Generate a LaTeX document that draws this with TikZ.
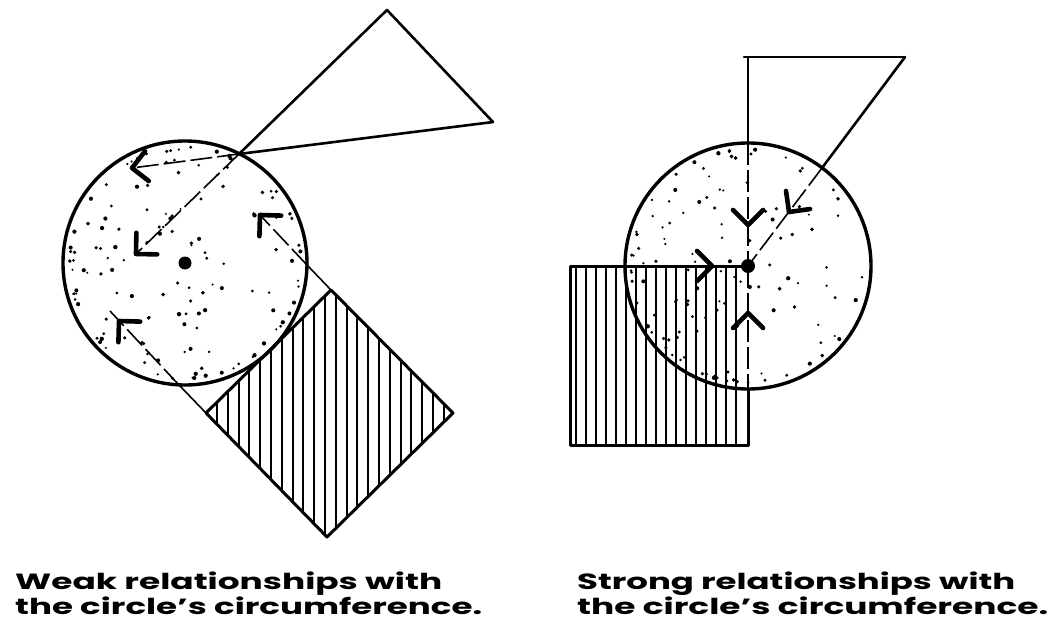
\documentclass[tikz,border=0pt]{standalone}
\usepackage{fontspec}
\setmainfont{Poppins}
\usepackage{graphicx}
\begin{document}
\begin{tikzpicture}[x=1pt,y=-1pt,
  rim/.style={line width=3.4pt},
  outline/.style={line width=3pt, line join=round, line cap=round},
  edge/.style={line width=2.6pt, line join=round, line cap=round},
  guide/.style={line width=1.6pt},
  guidein/.style={line width=1.6pt, dash pattern=on 22pt off 5pt},
  hatch/.style={line width=2.1pt},
  barbs/.pic={\draw[line width=4.6pt, line cap=round, line join=round] (-15,-15) -- (0,0) -- (-15,15);},
  caption/.style={anchor=base west, align=left, inner sep=0pt, font=\fontsize{22}{25}\selectfont\bfseries},
]
\useasboundingbox (0,0) rectangle (1050,634);

% ---------------- left figure ----------------
\coordinate (CL) at (185,263);
\coordinate (TA) at (387,10);
\coordinate (TB) at (493,122);
\coordinate (TC) at (239,154);
\coordinate (SQt) at (331,290);
\coordinate (SQr) at (453,413);
\coordinate (SQb) at (327,537);
\coordinate (SQl) at (206,413);
\coordinate (E1) at (307,265);
\coordinate (E2) at (179,385);
\coordinate (L1) at (132,168);
\coordinate (L2) at (136,254);
\coordinate (L3) at (260,215);
\coordinate (L4) at (119,321);
\coordinate (L4x) at (110,311);

% stipple
\pgfmathsetseed{4711}
\foreach \i in {1,...,135}{
  \pgfmathsetmacro{\a}{360*rnd}
  \pgfmathsetmacro{\u}{rnd}
  \pgfmathsetmacro{\rr}{116-100*\u*\u*\u}
  \pgfmathsetmacro{\s}{1.1+1.1*rnd}
  \fill (CL) ++(\a:\rr) circle[radius=\s];
}
\draw[rim] (CL) circle[radius=122];
\fill (CL) circle[radius=6.5];

% hatched square
\begin{scope}
  \clip (SQt) -- (SQr) -- (SQb) -- (SQl) -- cycle;
  \foreach \x in {217,227.8,...,452}{\draw[hatch] (\x,280) -- (\x,545);}
\end{scope}
\draw[outline] (SQt) -- (SQr) -- (SQb) -- (SQl) -- cycle;

% triangle
\draw[edge] (TC) -- (TA) -- (TB) -- cycle;

% guide lines
\draw[guide] (SQt) -- (E1);
\draw[guidein] (E1) -- (L3);
\draw[guide] (SQl) -- (E2);
\draw[guidein] (E2) -- (L4x);
\draw[guidein] (TC) -- (L1);
\draw[guidein] (TC) -- (L2);

\pic[rotate=-172.8] at (L1) {barbs};
\pic[rotate=-136] at (L2) {barbs};
\pic[rotate=-226.6] at (L3) {barbs};
\pic[rotate=-226.6] at (L4) {barbs};

% ---------------- right figure ----------------
\coordinate (CR) at (748,266);
\coordinate (RA) at (748,57);
\coordinate (RAx) at (744,57);
\coordinate (RB) at (905,57);
\coordinate (RT) at (748,143);
\coordinate (RBot) at (748,389);
\coordinate (RE) at (822,168);
\coordinate (Q1) at (570,266);
\coordinate (Q2) at (570,445);
\coordinate (Q3) at (748,445);
\coordinate (R1) at (748,225);
\coordinate (R2) at (789,212);
\coordinate (R3) at (712,266);
\coordinate (R4) at (748,313);

\pgfmathsetseed{2024}
\foreach \i in {1,...,120}{
  \pgfmathsetmacro{\a}{360*rnd}
  \pgfmathsetmacro{\u}{rnd}
  \pgfmathsetmacro{\rr}{117-100*\u*\u*\u}
  \pgfmathsetmacro{\s}{1.1+1.1*rnd}
  \fill (CR) ++(\a:\rr) circle[radius=\s];
}

\begin{scope}
  \clip (Q1) rectangle (Q3);
  \foreach \x in {576,586,...,743}{\draw[hatch] (\x,260) -- (\x,450);}
\end{scope}
\draw[outline] (CR) -- (Q1) -- (Q2) -- (Q3) -- (RBot);

\draw[rim] (CR) circle[radius=123];

\draw[edge] (RAx) -- (RB);
\draw[edge] (RB) -- (RE);
\draw[guidein] (RE) -- (CR);
\draw[guide] (RA) -- (RT);
\draw[guidein] (RT) -- (CR);
\draw[guidein] (CR) -- (RBot);
\fill (CR) circle[radius=7];

\pic[rotate=-90] at (R1) {barbs};
\pic[rotate=-126.9] at (R2) {barbs};
\pic[rotate=0] at (R3) {barbs};
\pic[rotate=90] at (R4) {barbs};

% ---------------- captions ----------------
\node[caption] (capL) at (15,614) {\resizebox{427pt}{\height}{Weak relationships with}\\\resizebox{467pt}{\height}{the circle's circumference.}};
\node[caption] (capR) at (577,614) {\resizebox{438pt}{\height}{Strong relationships with}\\\resizebox{471pt}{\height}{the circle's circumference.}};
\end{tikzpicture}
\end{document}
